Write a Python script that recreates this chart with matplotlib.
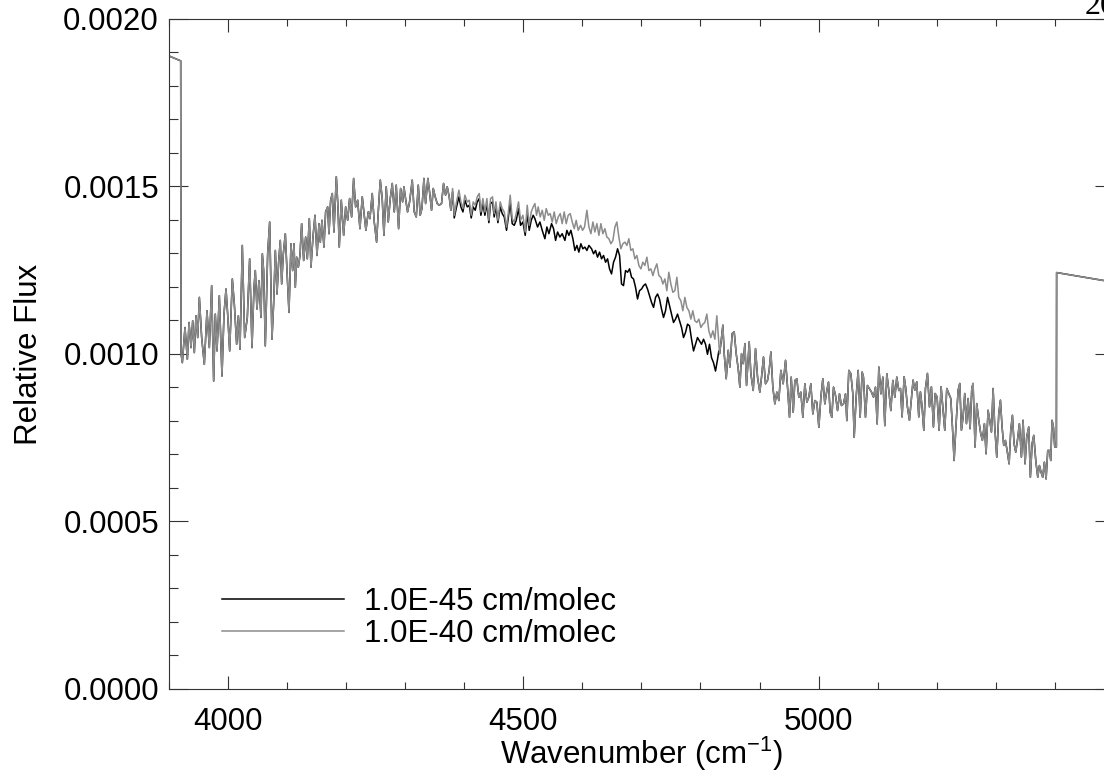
import numpy as np
import matplotlib
matplotlib.use("Agg")
import matplotlib.pyplot as plt
from matplotlib.lines import Line2D
from matplotlib.ticker import MultipleLocator, FormatStrFormatter

plt.rcParams['font.family'] = ['Liberation Sans', 'DejaVu Sans']
plt.rcParams['mathtext.fontset'] = 'custom'
plt.rcParams['mathtext.rm'] = 'Liberation Sans'
plt.rcParams['mathtext.default'] = 'regular'

# flux values are in units of 1e-6
# common part of both spectra, left side
wn_lo = [3900, 3920.3, 3921.0, 3923.1, 3927.6, 3931.6, 3934.4, 3937.8, 3940.6, 3943.4,
         3946.2, 3949.1, 3951.9, 3955.8, 3960.3, 3964.8, 3968.8, 3972.7, 3976.1, 3978.9,
         3981.8, 3985.7, 3990.2, 3993.6, 3997.0, 3999.8, 4003.2, 4007.7, 4011.1, 4015.0,
         4017.9, 4020.7, 4024.6, 4028.6, 4033.1, 4037.0, 4041.0, 4044.4, 4046.6, 4049.4,
         4052.8, 4056.2, 4058.5, 4060.7, 4063.5, 4067.5, 4070.9, 4074.8, 4077.6, 4080.5,
         4083.3, 4086.1, 4088.9, 4091.2, 4094.0, 4097.4, 4100.2, 4103.6, 4107.0, 4109.8,
         4112.1, 4114.3, 4116.6, 4119.4, 4122.2, 4125.0, 4128.4, 4131.8, 4134.6, 4138.0,
         4140.8, 4144.2, 4147.6, 4151.0, 4154.4, 4156.6, 4159.4, 4162.8, 4165.6, 4169.0,
         4171.3, 4174.1, 4176.9, 4179.7, 4183.7, 4186.5, 4188.7, 4192.1, 4196.1, 4199.5,
         4202.9, 4206.2, 4209.6, 4213.0, 4216.4, 4219.8, 4223.7, 4227.6, 4231.0, 4233.8,
         4237.8, 4240.6, 4244.5, 4247.9, 4251.9, 4254.7, 4258.1, 4261.4, 4264.3, 4268.2,
         4271.6, 4275.0, 4278.4, 4281.8, 4285.1, 4289.1, 4292.5, 4295.9, 4298.1, 4300.9,
         4304.3, 4307.7, 4312.2, 4315.6, 4319.0, 4322.4, 4325.7, 4328.6, 4332.0, 4334.8,
         4338.7, 4341.5, 4344.9, 4347.7, 4351.1, 4354.5, 4357.9, 4361.8, 4365.2, 4368.6,
         4371.4, 4374.8, 4377.6]
flux_lo = [1890, 1875, 1000, 974, 1079, 984, 1094, 1019, 1099, 1004,
           1114, 1049, 1169, 1049, 969, 1129, 1019, 1204, 919, 1119,
           1009, 1174, 934, 1119, 1194, 1119, 1009, 1224, 1149, 1029,
           1114, 1014, 1324, 1049, 1109, 1284, 1019, 1199, 1249, 1134,
           1219, 1109, 1299, 1249, 1024, 1299, 1394, 1044, 1149, 1309,
           1179, 1274, 1339, 1209, 1299, 1359, 1249, 1124, 1329, 1249,
           1329, 1199, 1289, 1259, 1294, 1389, 1279, 1349, 1284, 1404,
           1259, 1349, 1414, 1294, 1389, 1334, 1399, 1319, 1424, 1439,
           1359, 1459, 1479, 1364, 1529, 1439, 1319, 1459, 1354, 1439,
           1399, 1464, 1409, 1524, 1439, 1459, 1374, 1469, 1414, 1369,
           1424, 1404, 1479, 1394, 1334, 1424, 1519, 1464, 1354, 1499,
           1394, 1464, 1509, 1424, 1504, 1374, 1494, 1454, 1499, 1464,
           1424, 1454, 1519, 1424, 1409, 1504, 1414, 1434, 1524, 1449,
           1524, 1484, 1429, 1494, 1469, 1449, 1444, 1449, 1509, 1474,
           1499, 1469, 1429]

# middle part, 1.0E-40 (grey)
wn_mid_40 = [4380.5, 4383.3, 4387.2, 4391.2, 4394.6, 4398.0, 4401.3, 4405.3, 4408.7, 4412.0,
             4415.4, 4418.8, 4422.2, 4425.6, 4428.4, 4431.8, 4435.2, 4438.5, 4441.9, 4444.7,
             4448.1, 4450.9, 4453.8, 4457.2, 4461.1, 4464.5, 4467.9, 4471.8, 4474.6, 4478.0,
             4481.4, 4484.8, 4488.2, 4492.1, 4495.5, 4499.5, 4503.4, 4506.8, 4510.2, 4513.6,
             4516.9, 4519.8, 4522.6, 4525.4, 4528.8, 4532.2, 4535.6, 4539.0, 4542.4, 4545.7,
             4549.1, 4552.5, 4555.9, 4559.3, 4562.7, 4566.0, 4569.4, 4572.8, 4576.2, 4579.6,
             4583.0, 4586.4, 4589.7, 4593.1, 4597.1, 4600.5, 4603.8, 4607.8, 4611.2, 4614.6,
             4618.0, 4621.3, 4624.7, 4628.1, 4631.5, 4634.9, 4638.2, 4641.6, 4645.0, 4648.4,
             4651.8, 4655.2, 4658.5, 4661.9, 4665.3, 4668.7, 4672.1, 4675.5, 4678.8, 4682.2,
             4685.6, 4689.0, 4692.4, 4695.8, 4699.2, 4702.5, 4705.9, 4709.3, 4712.7, 4716.1,
             4719.5, 4722.8, 4726.2, 4729.6, 4733.0, 4736.4, 4739.8, 4743.1, 4746.5, 4749.9,
             4753.3, 4756.7, 4760.1, 4763.4, 4766.8, 4770.2, 4773.6, 4777.0, 4780.4, 4783.8,
             4787.1, 4790.5, 4793.9, 4797.3, 4800.7, 4804.1, 4807.4, 4810.8, 4814.2, 4817.6,
             4821.0, 4824.4, 4827.7, 4831.1]
flux_mid_40 = [1494, 1414, 1454, 1489, 1454, 1434, 1474, 1454, 1459, 1414,
               1454, 1444, 1469, 1479, 1424, 1464, 1424, 1464, 1399, 1464,
               1469, 1419, 1454, 1399, 1454, 1434, 1424, 1379, 1419, 1474,
               1404, 1394, 1419, 1454, 1399, 1414, 1364, 1444, 1384, 1424,
               1439, 1449, 1414, 1439, 1409, 1429, 1399, 1434, 1414, 1419,
               1394, 1424, 1389, 1409, 1419, 1389, 1424, 1389, 1414, 1419,
               1394, 1374, 1399, 1369, 1384, 1369, 1379, 1429, 1379, 1359,
               1394, 1364, 1389, 1354, 1389, 1359, 1374, 1349, 1344, 1329,
               1339, 1379, 1394, 1349, 1314, 1329, 1334, 1324, 1344, 1309,
               1314, 1284, 1294, 1264, 1254, 1274, 1264, 1289, 1249, 1254,
               1234, 1254, 1269, 1234, 1229, 1209, 1224, 1189, 1244, 1209,
               1184, 1189, 1229, 1169, 1159, 1129, 1169, 1139, 1129, 1104,
               1129, 1099, 1094, 1104, 1079, 1089, 1094, 1119, 1069, 1049,
               1069, 1044, 1114, 1034]

# middle part, 1.0E-45 (black)
wn_mid_45 = [4380.5, 4383.3, 4387.2, 4391.2, 4394.6, 4398.0, 4401.3, 4405.3, 4408.7, 4412.0,
             4415.4, 4418.8, 4422.2, 4425.6, 4428.4, 4431.8, 4435.2, 4438.5, 4441.9, 4444.7,
             4448.1, 4450.9, 4453.8, 4457.2, 4461.1, 4464.5, 4467.9, 4471.8, 4474.6, 4478.0,
             4481.4, 4484.8, 4488.2, 4492.1, 4495.5, 4499.5, 4503.4, 4506.8, 4510.2, 4513.6,
             4516.9, 4519.8, 4524.3, 4528.3, 4532.2, 4536.7, 4540.1, 4543.5, 4548.0, 4551.4,
             4554.8, 4558.2, 4562.1, 4566.0, 4570.6, 4573.9, 4577.3, 4580.7, 4584.1, 4587.5,
             4590.9, 4594.2, 4597.6, 4601.0, 4604.4, 4607.8, 4611.2, 4615.7, 4619.1, 4622.4,
             4625.8, 4629.2, 4632.6, 4636.0, 4639.4, 4642.8, 4646.1, 4649.5, 4652.9, 4656.3,
             4659.7, 4663.1, 4666.4, 4669.8, 4673.2, 4676.6, 4680.0, 4683.4, 4686.7, 4690.1,
             4693.5, 4696.9, 4700.3, 4703.7, 4707.0, 4710.4, 4713.8, 4717.2, 4720.6, 4724.0,
             4727.4, 4730.7, 4734.1, 4737.5, 4740.9, 4744.3, 4747.7, 4751.0, 4754.4, 4757.8,
             4761.2, 4764.6, 4768.0, 4771.3, 4774.7, 4778.1, 4781.5, 4784.9, 4788.3, 4791.6,
             4795.0, 4798.4, 4801.8, 4805.2, 4808.6, 4811.9, 4815.3, 4818.7, 4822.1, 4825.5,
             4828.9, 4831.1]
flux_mid_45 = [1484, 1406, 1439, 1469, 1439, 1424, 1459, 1439, 1444, 1406,
               1439, 1429, 1454, 1464, 1414, 1449, 1414, 1449, 1392, 1449,
               1454, 1409, 1439, 1392, 1439, 1419, 1409, 1369, 1404, 1454,
               1389, 1384, 1399, 1434, 1384, 1394, 1354, 1419, 1369, 1399,
               1414, 1404, 1379, 1394, 1369, 1344, 1379, 1359, 1389, 1374,
               1339, 1364, 1349, 1359, 1339, 1369, 1354, 1369, 1344, 1309,
               1324, 1304, 1329, 1314, 1319, 1309, 1324, 1314, 1299, 1309,
               1289, 1304, 1284, 1294, 1274, 1284, 1254, 1239, 1274, 1289,
               1314, 1294, 1209, 1204, 1249, 1244, 1254, 1229, 1224, 1199,
               1164, 1189, 1194, 1204, 1209, 1194, 1174, 1154, 1139, 1169,
               1179, 1164, 1134, 1109, 1129, 1169, 1144, 1119, 1094, 1104,
               1119, 1099, 1079, 1049, 1064, 1089, 1084, 1044, 1009, 1029,
               1049, 1039, 1029, 1044, 1029, 999, 1029, 989, 974, 949,
               984, 1009]

# common part, right side
wn_hi = [4832.3, 4834.6, 4837.9, 4840.2, 4843.6, 4847.0, 4849.8, 4853.7, 4857.1, 4860.5,
         4863.9, 4866.7, 4869.5, 4872.3, 4875.2, 4878.0, 4882.5, 4885.3, 4889.3, 4893.2,
         4896.6, 4900.5, 4903.4, 4906.7, 4910.1, 4913.5, 4916.3, 4919.2, 4922.5, 4925.9,
         4929.3, 4932.7, 4936.1, 4940.0, 4944.0, 4947.4, 4950.7, 4953.6, 4957.0, 4959.8,
         4963.1, 4966.5, 4969.9, 4973.3, 4976.7, 4980.1, 4983.4, 4986.8, 4990.2, 4993.6,
         4997.0, 5000.4, 5003.8, 5007.1, 5010.5, 5013.9, 5016.7, 5019.5, 5022.4, 5025.2,
         5028.6, 5032.0, 5035.3, 5038.7, 5042.1, 5045.5, 5047.7, 5051.1, 5054.5, 5057.9,
         5060.2, 5063.5, 5066.9, 5070.3, 5073.7, 5075.9, 5079.3, 5082.7, 5086.1, 5089.5,
         5092.9, 5096.2, 5099.1, 5101.9, 5105.3, 5108.7, 5112.0, 5115.4, 5118.8, 5122.2,
         5125.6, 5129.0, 5132.3, 5135.7, 5138.5, 5141.3, 5144.7, 5147.5, 5150.3, 5153.7,
         5157.1, 5159.9, 5162.7, 5166.1, 5169.5, 5172.3, 5175.1, 5178.0, 5180.8, 5184.2,
         5187.6, 5190.9, 5194.3, 5197.1, 5200.5, 5203.9, 5207.3, 5210.7, 5213.5, 5216.9,
         5220.3, 5223.7, 5226.5, 5229.3, 5232.7, 5236.1, 5238.9, 5241.7, 5244.5, 5247.3,
         5250.2, 5253.0, 5256.4, 5259.2, 5261.4, 5264.8, 5267.6, 5271.0, 5274.4, 5277.2,
         5280.6, 5283.4, 5286.8, 5289.6, 5292.5, 5295.3, 5298.1, 5301.5, 5304.9, 5307.7,
         5310.5, 5313.3, 5316.1, 5319.0, 5322.4, 5325.2, 5328.0, 5330.8, 5333.6, 5336.5,
         5339.8, 5343.2, 5346.0, 5349.4, 5352.2, 5355.6, 5358.4, 5361.3, 5364.1, 5367.5,
         5370.9, 5373.7, 5376.5, 5379.3, 5382.1, 5385.0, 5387.8, 5390.6, 5392.9, 5395.1,
         5397.4, 5399.6, 5402.4, 5402.8, 5500]
flux_hi = [1001, 1031, 1086, 1001, 926, 1011, 961, 1061, 1066, 1001,
           956, 901, 1001, 971, 1031, 906, 1036, 941, 891, 1016,
           931, 886, 931, 991, 911, 921, 951, 1006, 901, 851,
           886, 861, 951, 911, 981, 901, 811, 931, 826, 921,
           926, 871, 886, 811, 911, 856, 871, 911, 821, 861,
           856, 781, 871, 926, 851, 891, 916, 826, 811, 901,
           876, 831, 881, 846, 851, 881, 801, 951, 941, 881,
           751, 871, 951, 811, 946, 931, 811, 906, 896, 886,
           871, 901, 791, 961, 881, 931, 786, 941, 891, 831,
           921, 871, 931, 891, 897, 812, 932, 897, 842, 802,
           867, 922, 892, 917, 812, 887, 842, 772, 897, 942,
           842, 902, 782, 882, 872, 772, 902, 832, 772, 897,
           882, 867, 782, 682, 792, 892, 912, 772, 812, 882,
           792, 867, 777, 897, 912, 722, 852, 802, 762, 742,
           792, 702, 832, 802, 767, 897, 782, 692, 822, 862,
           782, 727, 742, 712, 672, 772, 817, 732, 707, 742,
           792, 692, 802, 672, 752, 782, 632, 732, 757, 682,
           632, 667, 647, 632, 677, 627, 712, 712, 682, 802,
           782, 722, 722, 1243, 1214]

labels = ['1.0E-45 cm/molec', '1.0E-40 cm/molec']
colors = ['black', '#8c8c8c']

wn_45 = np.array(wn_lo + wn_mid_45 + wn_hi)
flux_45 = np.array(flux_lo + flux_mid_45 + flux_hi) * 1e-6
wn_40 = np.array(wn_lo + wn_mid_40 + wn_hi)
flux_40 = np.array(flux_lo + flux_mid_40 + flux_hi) * 1e-6

fig = plt.figure(figsize=(11.04, 7.71), dpi=100)
ax = fig.add_axes([0.1528, 0.1064, 0.8563, 0.869])

ax.plot(wn_45, flux_45, color=colors[0], lw=1.1)
ax.plot(wn_40, flux_40, color=colors[1], lw=1.1)

ax.set_xlim(3900, 5500)
ax.set_ylim(0, 0.0020)
ax.set_xticks([4000, 4500, 5000])
ax.xaxis.set_minor_locator(MultipleLocator(100))
ax.yaxis.set_major_locator(MultipleLocator(0.0005))
ax.yaxis.set_minor_locator(MultipleLocator(0.0001))
ax.yaxis.set_major_formatter(FormatStrFormatter('%.4f'))

ax.tick_params(which='both', direction='in', top=True, right=True, width=0.8,
               labelsize=22.5, color='#333333')
ax.tick_params(axis='x', which='major', length=9.6, pad=13)
ax.tick_params(axis='x', which='minor', length=4.8)
ax.tick_params(axis='y', which='major', length=13.6, pad=7)
ax.tick_params(axis='y', which='minor', length=6.8)
for s in ax.spines.values():
    s.set_linewidth(0.8)
    s.set_color('#333333')

ax.set_xlabel('Wavenumber (cm$^{-1}$)', fontsize=22.5, labelpad=-1.5)
ax.set_ylabel('Relative Flux', fontsize=22.5, labelpad=14)

handles = [Line2D([], [], color=c, lw=1.1) for c in colors]
ax.legend(handles, labels, loc='lower left', bbox_to_anchor=(0.04, 0.036),
          frameon=False, fontsize=22.5, handlelength=3.9, handletextpad=0.64,
          labelspacing=0.08, borderpad=0)

fig.text(1085 / 1104, 1 - 14 / 771, '20', fontsize=23, family='Liberation Serif',
         va='baseline', ha='left')

fig.savefig('out.png', dpi=100)
